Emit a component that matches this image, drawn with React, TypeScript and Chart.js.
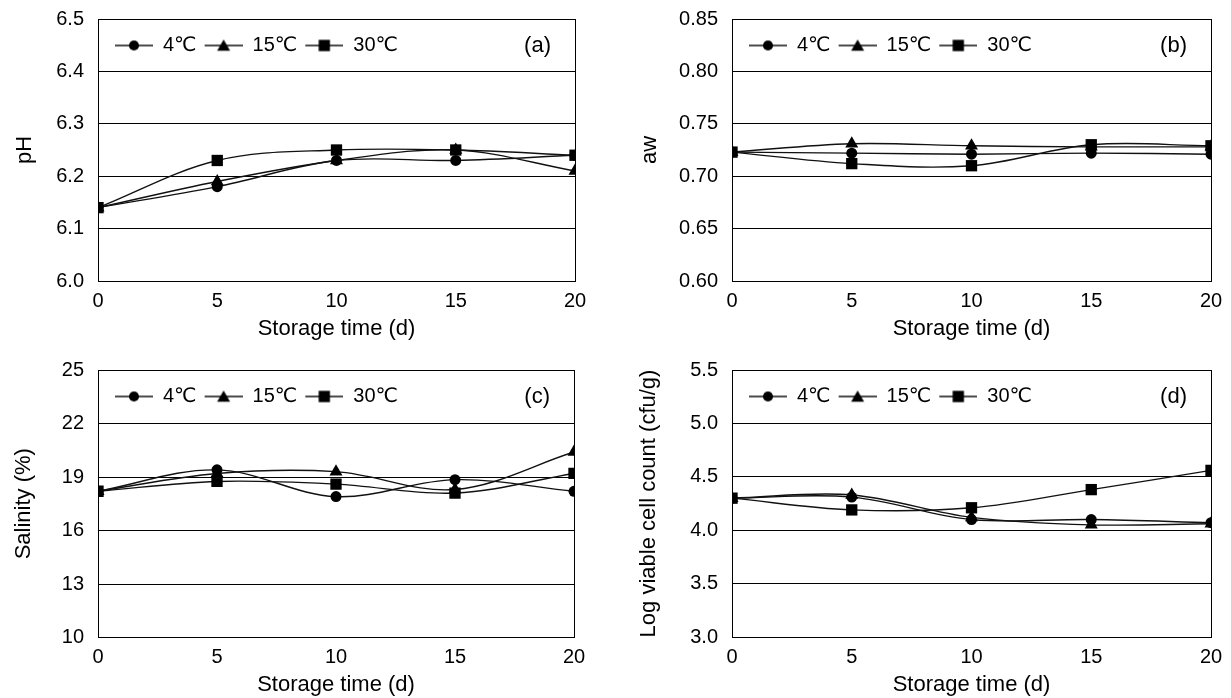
import React, { useEffect, useRef } from 'react';
import { Chart, registerables } from 'chart.js';

Chart.register(...registerables);

// ---------- data ----------
const days = [0, 5, 10, 15, 20];
const seriesLabels = ['4℃', '15℃', '30℃'];

const ph4 = [6.14, 6.18, 6.23, 6.23, 6.24];
const ph15 = [6.14, 6.19, 6.23, 6.25, 6.21];
const ph30 = [6.14, 6.23, 6.25, 6.25, 6.24];

const aw4 = [0.723, 0.722, 0.721, 0.722, 0.721];
const aw15 = [0.723, 0.731, 0.729, 0.728, 0.728];
const aw30 = [0.723, 0.712, 0.71, 0.73, 0.729];

const sal4 = [18.2, 19.4, 17.9, 18.85, 18.2];
const sal15 = [18.2, 19.2, 19.3, 18.3, 20.4];
const sal30 = [18.2, 18.75, 18.6, 18.1, 19.2];

const cnt4 = [4.3, 4.31, 4.1, 4.1, 4.07];
const cnt15 = [4.3, 4.33, 4.12, 4.05, 4.06];
const cnt30 = [4.3, 4.19, 4.21, 4.38, 4.56];

const xTickLabels = ['0', '5', '10', '15', '20'];
const phTickLabels = ['6.0', '6.1', '6.2', '6.3', '6.4', '6.5'];
const awTickLabels = ['0.60', '0.65', '0.70', '0.75', '0.80', '0.85'];
const salTickLabels = ['10', '13', '16', '19', '22', '25'];
const cntTickLabels = ['3.0', '3.5', '4.0', '4.5', '5.0', '5.5'];

const xTitle = 'Storage time (d)';
const yTitles = ['pH', 'aw', 'Salinity (%)', 'Log viable cell count (cfu/g)'];
const panelTags = ['(a)', '(b)', '(c)', '(d)'];

// ---------- styles ----------
const FONT = "'Liberation Sans', Arial, 'DejaVu Sans', sans-serif";
const pointStyles = ['circle', 'triangle', 'rect'];
const pointRadii = [5.5, 7.5, 8];
const drawOrder = [2, 1, 0];
const LEGEND_PAD = 1;

type PanelCfg = {
  x: number; y: number; w: number; h: number;
  padTop: number; padRight: number; yWidth: number; xHeight: number;
  yTitlePad: number; xTitlePad: number;
  series: number[][]; ticks: string[]; yTitle: string; tag: string;
};

const panels: PanelCfg[] = [
  { x: 0, y: 0, w: 615, h: 349, padTop: 18, padRight: 40, yWidth: 98, xHeight: 68, yTitlePad: 11.8, xTitlePad: 6.8,
    series: [ph4, ph15, ph30], ticks: phTickLabels, yTitle: yTitles[0], tag: panelTags[0] },
  { x: 615, y: 0, w: 616, h: 349, padTop: 18, padRight: 20, yWidth: 117, xHeight: 68, yTitlePad: 21.8, xTitlePad: 6.8,
    series: [aw4, aw15, aw30], ticks: awTickLabels, yTitle: yTitles[1], tag: panelTags[1] },
  { x: 0, y: 349, w: 615, h: 349, padTop: 20, padRight: 41, yWidth: 98, xHeight: 60.5, yTitlePad: 10.8, xTitlePad: 0,
    series: [sal4, sal15, sal30], ticks: salTickLabels, yTitle: yTitles[2], tag: panelTags[2] },
  { x: 615, y: 349, w: 616, h: 349, padTop: 20, padRight: 20, yWidth: 117, xHeight: 61, yTitlePad: 20.8, xTitlePad: 0,
    series: [cnt4, cnt15, cnt30], ticks: cntTickLabels, yTitle: yTitles[3], tag: panelTags[3] },
];

function makeIcon(style: string, r: number): HTMLCanvasElement {
  const c = document.createElement('canvas');
  c.width = 45; c.height = 20;
  const ctx = c.getContext('2d')!;
  const cy = 10, cx = 26;
  ctx.strokeStyle = '#111';
  ctx.lineWidth = 1.4;
  ctx.beginPath(); ctx.moveTo(7, cy); ctx.lineTo(45, cy); ctx.stroke();
  ctx.fillStyle = '#000';
  ctx.beginPath();
  if (style === 'circle') {
    ctx.arc(cx, cy, r, 0, Math.PI * 2);
  } else if (style === 'triangle') {
    const yy = cy + 1.5;
    ctx.moveTo(cx, yy - r);
    ctx.lineTo(cx + Math.sin((2 * Math.PI) / 3) * r, yy - Math.cos((2 * Math.PI) / 3) * r);
    ctx.lineTo(cx + Math.sin((4 * Math.PI) / 3) * r, yy - Math.cos((4 * Math.PI) / 3) * r);
    ctx.closePath();
  } else {
    const s = Math.SQRT1_2 * r;
    ctx.rect(cx - s, cy - s, 2 * s, 2 * s);
  }
  ctx.fill();
  return c;
}

const legendMover = {
  id: 'legendMover',
  afterLayout(chart: any) {
    const lg = chart.legend;
    const ca = chart.chartArea;
    if (!lg || !ca) return;
    lg.left = ca.left + 17 - 7 - LEGEND_PAD;
    lg.right = ca.right;
    lg.width = lg.right - lg.left;
    lg.top = ca.top + 26.5 - 10 - LEGEND_PAD;
    lg.bottom = lg.top + 40;
    lg.height = 40;
  },
};

const panelTag = {
  id: 'panelTag',
  afterDraw(chart: any, _args: any, opts: any) {
    const ca = chart.chartArea;
    const ctx = chart.ctx;
    ctx.save();
    ctx.font = `22px ${FONT}`;
    ctx.fillStyle = '#000';
    ctx.textAlign = 'right';
    ctx.textBaseline = 'middle';
    ctx.fillText(opts.text, ca.right - 24, ca.top + 26.5);
    ctx.restore();
  },
};

function Panel({ cfg }: { cfg: PanelCfg }) {
  const ref = useRef<HTMLCanvasElement | null>(null);
  useEffect(() => {
    const canvas = ref.current!;
    const icons = pointStyles.map((s, i) => makeIcon(s, pointRadii[i] * (s === 'circle' ? 0.92 : 1)));
    const yVals = cfg.ticks.map(Number);
    const yMin = yVals[0];
    const yMax = yVals[yVals.length - 1];
    const yStep = yVals[1] - yVals[0];
    const chart = new Chart(canvas, {
      type: 'line',
      data: {
        datasets: cfg.series.map((vals, i) => ({
          label: seriesLabels[i],
          data: days.map((d, k) => ({ x: d, y: vals[k] })),
          borderColor: '#111',
          backgroundColor: '#000',
          borderWidth: 1.4,
          pointStyle: pointStyles[i] as any,
          pointRadius: pointRadii[i],
          pointHoverRadius: pointRadii[i],
          pointBackgroundColor: '#000',
          pointBorderColor: '#000',
          pointBorderWidth: 0,
          tension: 0.35,
          fill: false,
          order: drawOrder[i],
        })),
      },
      options: {
        animation: false,
        responsive: false,
        maintainAspectRatio: false,
        devicePixelRatio: 1,
        events: [],
        layout: { padding: { top: cfg.padTop, right: cfg.padRight, left: 0, bottom: 0 } },
        scales: {
          x: {
            type: 'linear',
            min: days[0],
            max: days[days.length - 1],
            afterFit: (s: any) => { s.height = cfg.xHeight; },
            ticks: {
              stepSize: 5,
              padding: 8,
              maxRotation: 0,
              autoSkip: false,
              color: '#000',
              font: { family: FONT, size: 20 },
              callback: (v: any) => xTickLabels[days.indexOf(Number(v))] ?? '',
            },
            grid: {
              drawTicks: false,
              lineWidth: 1,
              color: (c: any) => (c.tick && c.tick.value === days[days.length - 1] ? '#000' : 'rgba(0,0,0,0)'),
            },
            border: { display: true, color: '#000', width: 1 },
            title: {
              display: true,
              text: xTitle,
              color: '#000',
              font: { family: FONT, size: 22, weight: 'normal' },
              padding: { top: 0, bottom: cfg.xTitlePad },
            },
          },
          y: {
            type: 'linear',
            min: yMin,
            max: yMax,
            afterFit: (s: any) => { s.width = cfg.yWidth; },
            ticks: {
              stepSize: yStep,
              padding: 0,
              autoSkip: false,
              color: '#000',
              font: { family: FONT, size: 20 },
              callback: (v: any) => {
                const idx = yVals.findIndex((t) => Math.abs(t - Number(v)) < yStep / 100);
                return idx >= 0 ? cfg.ticks[idx] : '';
              },
            },
            grid: { drawTicks: true, tickLength: 14, tickColor: 'rgba(0,0,0,0)', color: '#000', lineWidth: 1 },
            border: { display: true, color: '#000', width: 1 },
            title: {
              display: true,
              text: cfg.yTitle,
              color: '#000',
              font: { family: FONT, size: 22, weight: 'normal' },
              padding: { top: cfg.yTitlePad, bottom: 0 },
            },
          },
        },
        plugins: {
          tooltip: { enabled: false },
          title: { display: false },
          legend: {
            display: true,
            position: 'top',
            align: 'start',
            fullSize: false,
            maxHeight: 1,
            labels: {
              usePointStyle: true,
              pointStyleWidth: 45,
              padding: LEGEND_PAD,
              color: '#000',
              font: { family: FONT, size: 20 },
              sort: (a: any, b: any) => a.datasetIndex - b.datasetIndex,
              generateLabels: (ch: any) =>
                (Chart.defaults.plugins.legend.labels.generateLabels as any)(ch).map((l: any) => ({
                  ...l,
                  pointStyle: icons[l.datasetIndex],
                })),
            },
          },
          panelTag: { text: cfg.tag },
        } as any,
      },
      plugins: [legendMover, panelTag],
    } as any);
    return () => chart.destroy();
  }, []);
  return (
    <canvas
      ref={ref}
      width={cfg.w}
      height={cfg.h}
      style={{ position: 'absolute', left: cfg.x, top: cfg.y, width: cfg.w, height: cfg.h }}
    />
  );
}

export default function App() {
  return (
    <div style={{ position: 'absolute', left: 0, top: 0, width: 1231, height: 698, background: '#fff' }}>
      {panels.map((p, i) => (
        <Panel key={i} cfg={p} />
      ))}
    </div>
  );
}
